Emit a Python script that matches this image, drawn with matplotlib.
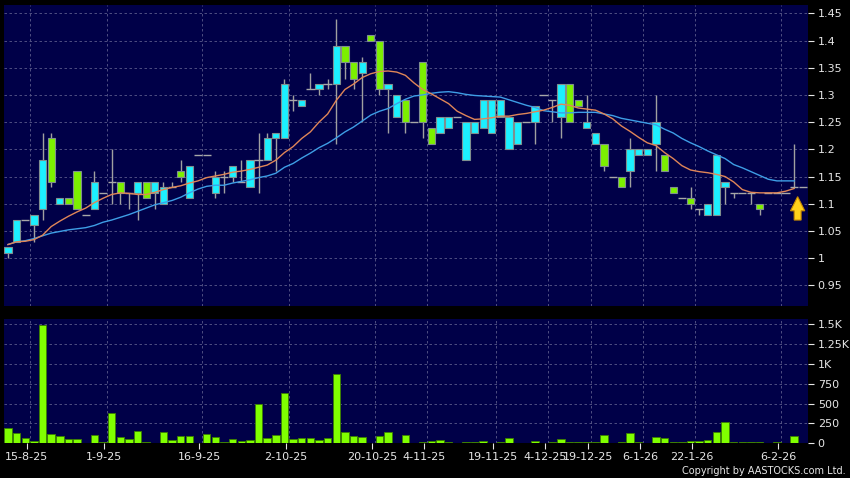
import numpy as np
import matplotlib.pyplot as plt
from matplotlib.patches import FancyArrow

# daily candles (13-8-25 .. 9-2-26)
opens = [1.01, 1.03, 1.07, 1.06, 1.09, 1.22, 1.10, 1.11, 1.16, 1.08,
         1.09, 1.12, 1.14, 1.14, 1.12, 1.12, 1.14, 1.12, 1.10, 1.13,
         1.16, 1.11, 1.19, 1.19, 1.12, 1.15, 1.15, 1.14, 1.13, 1.18,
         1.18, 1.22, 1.22, 1.29, 1.28, 1.31, 1.31, 1.32, 1.32, 1.39,
         1.36, 1.34, 1.41, 1.40, 1.31, 1.26, 1.29, 1.25, 1.36, 1.24,
         1.23, 1.24, 1.26, 1.18, 1.23, 1.24, 1.23, 1.26, 1.20, 1.21,
         1.25, 1.25, 1.30, 1.29, 1.26, 1.32, 1.29, 1.24, 1.21, 1.21,
         1.15, 1.15, 1.16, 1.19, 1.19, 1.21, 1.19, 1.13, 1.11, 1.11,
         1.09, 1.08, 1.08, 1.13, 1.12, 1.12, 1.12, 1.10, 1.12, 1.12,
         1.12, 1.13, 1.13]
highs = [1.02, 1.07, 1.07, 1.08, 1.23, 1.23, 1.11, 1.11, 1.16, 1.08,
         1.16, 1.12, 1.20, 1.14, 1.12, 1.14, 1.14, 1.14, 1.14, 1.14,
         1.18, 1.17, 1.19, 1.19, 1.16, 1.16, 1.17, 1.18, 1.18, 1.23,
         1.23, 1.23, 1.33, 1.30, 1.29, 1.34, 1.32, 1.33, 1.44, 1.39,
         1.36, 1.37, 1.41, 1.40, 1.32, 1.30, 1.29, 1.25, 1.36, 1.24,
         1.26, 1.26, 1.26, 1.25, 1.25, 1.29, 1.29, 1.29, 1.26, 1.25,
         1.25, 1.28, 1.30, 1.29, 1.32, 1.32, 1.29, 1.30, 1.23, 1.21,
         1.15, 1.15, 1.22, 1.20, 1.20, 1.30, 1.19, 1.13, 1.11, 1.13,
         1.09, 1.10, 1.19, 1.14, 1.12, 1.12, 1.12, 1.10, 1.12, 1.12,
         1.12, 1.21, 1.13]
lows = [1.00, 1.03, 1.07, 1.03, 1.07, 1.13, 1.10, 1.10, 1.09, 1.08,
        1.09, 1.12, 1.10, 1.10, 1.09, 1.07, 1.11, 1.09, 1.10, 1.13,
        1.14, 1.11, 1.19, 1.19, 1.11, 1.12, 1.14, 1.14, 1.13, 1.12,
        1.18, 1.16, 1.22, 1.27, 1.28, 1.31, 1.30, 1.31, 1.21, 1.33,
        1.31, 1.25, 1.40, 1.30, 1.23, 1.26, 1.23, 1.25, 1.22, 1.21,
        1.23, 1.24, 1.26, 1.18, 1.23, 1.24, 1.23, 1.26, 1.20, 1.21,
        1.25, 1.21, 1.30, 1.25, 1.22, 1.25, 1.28, 1.24, 1.21, 1.16,
        1.15, 1.13, 1.13, 1.19, 1.19, 1.16, 1.16, 1.12, 1.11, 1.09,
        1.08, 1.08, 1.08, 1.10, 1.11, 1.12, 1.10, 1.08, 1.12, 1.12,
        1.12, 1.13, 1.13]
closes = [1.02, 1.07, 1.07, 1.08, 1.18, 1.14, 1.11, 1.10, 1.09, 1.08,
          1.14, 1.12, 1.14, 1.12, 1.12, 1.14, 1.11, 1.14, 1.13, 1.13,
          1.15, 1.17, 1.19, 1.19, 1.15, 1.15, 1.17, 1.14, 1.18, 1.18,
          1.22, 1.23, 1.32, 1.29, 1.29, 1.31, 1.32, 1.32, 1.39, 1.36,
          1.33, 1.36, 1.40, 1.31, 1.32, 1.30, 1.25, 1.25, 1.25, 1.21,
          1.26, 1.26, 1.26, 1.25, 1.25, 1.29, 1.29, 1.29, 1.26, 1.25,
          1.25, 1.28, 1.30, 1.29, 1.32, 1.25, 1.28, 1.25, 1.23, 1.17,
          1.15, 1.13, 1.20, 1.20, 1.20, 1.25, 1.16, 1.12, 1.11, 1.10,
          1.09, 1.10, 1.19, 1.14, 1.12, 1.12, 1.12, 1.09, 1.12, 1.12,
          1.12, 1.13, 1.13]
volumes = [189, 126, 63, 25, 1490, 122, 92, 55, 50, 0,
           100, 17, 377, 80, 59, 151, 13, 5, 143, 42,
           88, 96, 0, 117, 80, 13, 55, 25, 46, 491,
           71, 105, 637, 55, 63, 63, 46, 63, 868, 143,
           92, 80, 8, 92, 143, 8, 100, 0, 13, 29,
           46, 13, 0, 13, 13, 25, 0, 13, 63, 0,
           0, 34, 0, 13, 50, 21, 13, 13, 13, 109,
           0, 13, 134, 13, 8, 80, 67, 17, 13, 25,
           25, 38, 143, 273, 13, 17, 21, 13, 0, 13,
           0, 96, 0]

# moving averages as drawn on the chart (short = orange, long = blue)
ma_short = [1.025, 1.030, 1.031, 1.034, 1.042, 1.058, 1.068, 1.077, 1.085, 1.092,
            1.102, 1.110, 1.117, 1.120, 1.119, 1.117, 1.117, 1.121, 1.126, 1.130,
            1.133, 1.138, 1.142, 1.148, 1.151, 1.154, 1.158, 1.160, 1.163, 1.167,
            1.171, 1.180, 1.194, 1.205, 1.220, 1.232, 1.250, 1.265, 1.290, 1.310,
            1.320, 1.332, 1.339, 1.343, 1.344, 1.342, 1.336, 1.322, 1.310, 1.302,
            1.293, 1.284, 1.270, 1.262, 1.255, 1.256, 1.258, 1.261, 1.261, 1.264,
            1.266, 1.269, 1.272, 1.277, 1.283, 1.281, 1.276, 1.274, 1.272, 1.265,
            1.256, 1.243, 1.233, 1.222, 1.212, 1.207, 1.194, 1.183, 1.170, 1.162,
            1.159, 1.157, 1.154, 1.150, 1.140, 1.126, 1.121, 1.120, 1.120, 1.120,
            1.123, 1.128]
ma_long = [1.025, 1.030, 1.032, 1.036, 1.041, 1.046, 1.049, 1.052, 1.054, 1.056,
           1.060, 1.066, 1.070, 1.075, 1.080, 1.086, 1.092, 1.098, 1.102, 1.106,
           1.112, 1.120, 1.127, 1.132, 1.134, 1.134, 1.138, 1.141, 1.144, 1.148,
           1.151, 1.156, 1.167, 1.174, 1.184, 1.193, 1.203, 1.211, 1.221, 1.232,
           1.241, 1.252, 1.263, 1.270, 1.275, 1.284, 1.292, 1.298, 1.300, 1.303,
           1.305, 1.306, 1.304, 1.301, 1.299, 1.298, 1.297, 1.296, 1.291, 1.286,
           1.281, 1.277, 1.271, 1.269, 1.267, 1.267, 1.268, 1.268, 1.268, 1.265,
           1.262, 1.257, 1.254, 1.251, 1.248, 1.245, 1.237, 1.230, 1.220, 1.212,
           1.205, 1.197, 1.190, 1.183, 1.172, 1.166, 1.159, 1.152, 1.145, 1.142,
           1.142, 1.142]

# date labels: (bar index, text)
date_idx = [2, 11, 22, 32, 42, 48, 56, 62, 67, 73, 79, 89]
date_lbl = ['15-8-25', '1-9-25', '16-9-25', '2-10-25', '20-10-25', '4-11-25',
            '19-11-25', '4-12-25', '19-12-25', '6-1-26', '22-1-26', '6-2-26']
price_ticks = [0.95, 1.0, 1.05, 1.1, 1.15, 1.2, 1.25, 1.3, 1.35, 1.4, 1.45]
vol_ticks = [0, 250, 500, 750, 1000, 1250, 1500]
vol_lbl = ['0', '250', '500', '750', '1K', '1.25K', '1.5K']

NAVY = '#000048'
GRID = '#5a5a8a'
TXT = '#e6e6e6'
UP = '#1cf0ff'
DOWN = '#7cf000'

o = np.array(opens); h = np.array(highs); l = np.array(lows); c = np.array(closes)
x = np.arange(len(c))

fig = plt.figure(figsize=(8.5, 4.78), dpi=100, facecolor='black')
ax1 = fig.add_axes([4/850, 1-306/478, 804/850, 301/478], facecolor=NAVY)
ax2 = fig.add_axes([4/850, 1-443.3/478, 804/850, 124.3/478], facecolor=NAVY)

for ax in (ax1, ax2):
    ax.set_xlim(-0.46, 92.6)
    for s in ax.spines.values():
        s.set_visible(False)
    for i in date_idx:
        ax.axvline(i + 0.5, color=GRID, lw=0.6, ls=(0, (3, 3)), zorder=0)
    ax.yaxis.tick_right()
    ax.tick_params(axis='y', colors=TXT, labelsize=8, length=4, width=0.8, pad=3)

# price panel
ax1.set_ylim(0.912, 1.4653)
ax1.set_yticks(price_ticks)
ax1.set_yticklabels([f'{v:g}' for v in price_ticks])
for v in price_ticks:
    ax1.axhline(v, color=GRID, lw=0.6, ls=(0, (3, 3)), zorder=0)
ax1.set_xticks([])

ax1.vlines(x, l, h, color='#a0a0a0', lw=1, zorder=2)
body = c != o
up = c > o
ax1.bar(x[body & up], (c - o)[body & up], bottom=o[body & up], width=0.84,
        color=UP, edgecolor='#7f8f8f', lw=0.8, zorder=3)
ax1.bar(x[body & ~up], (o - c)[body & ~up], bottom=c[body & ~up], width=0.84,
        color=DOWN, edgecolor='#7f8f8f', lw=0.8, zorder=3)
ax1.hlines(c[~body], x[~body] - 0.48, x[~body] + 0.48, color='#a8a8a8', lw=1, zorder=3)

ax1.plot(np.arange(len(ma_long)), ma_long, color='#3e9ee6', lw=1, zorder=4)
ax1.plot(np.arange(len(ma_short)), ma_short, color='#e08658', lw=1, zorder=4)

# yellow arrow under the last bar
ax1.add_patch(FancyArrow(x[-1] - 0.6, c[-1] - 0.06, 0, 0.043, width=0.8,
                         head_width=1.65, head_length=0.026,
                         length_includes_head=True, facecolor='#ffd21a',
                         edgecolor='#c88a00', lw=0.8, zorder=5))

# volume panel
ax2.set_ylim(0, 1563)
ax2.set_yticks(vol_ticks)
ax2.set_yticklabels(vol_lbl)
for v in vol_ticks:
    ax2.axhline(v, color=GRID, lw=0.6, ls=(0, (3, 3)), zorder=0)
ax2.bar(x, volumes, width=0.86, color='#80ff00', edgecolor='#3c8000', lw=0.6, zorder=3)
ax2.set_xticks([i + 0.15 for i in date_idx])
ax2.set_xticklabels(date_lbl)
ax2.tick_params(axis='x', colors=TXT, labelsize=8, length=4, width=0.8, pad=2)

fig.text(0.995, 1 - 471/478, 'Copyright by AASTOCKS.com Ltd.', color=TXT, fontsize=7,
         ha='right', va='center')

fig.savefig('out.png', dpi=100, facecolor='black')
